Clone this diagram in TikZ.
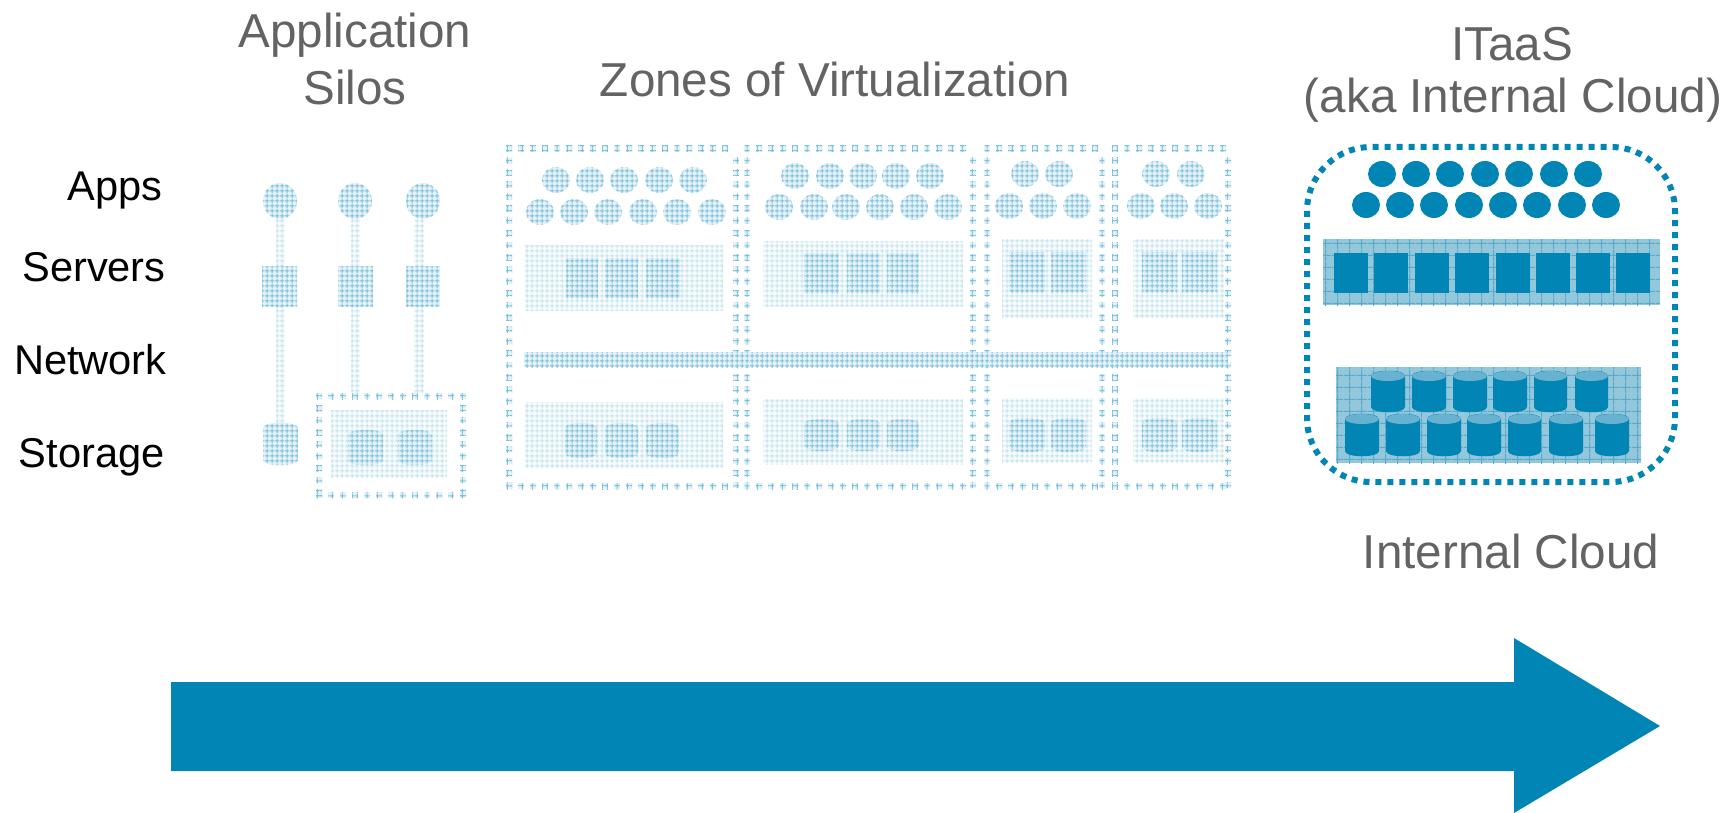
\documentclass[tikz,border=0pt]{standalone}
\usepackage{fontspec}
\setmainfont{Liberation Sans}
\usetikzlibrary{patterns}
\definecolor{itblue}{HTML}{0085B5}
\definecolor{itcap}{HTML}{66B2D0}
\definecolor{txtgray}{HTML}{636363}
\definecolor{fadeA}{HTML}{7CC0DA}
\definecolor{fadeB}{HTML}{C6E3EE}
\definecolor{baseA}{HTML}{E4F2F7}
\definecolor{baseB}{HTML}{F6FBFC}
\definecolor{bandbase}{HTML}{93C7DC}
\definecolor{bandgrid}{HTML}{5CAAC9}
\pgfdeclarepatternformonly{finegrid}{\pgfqpoint{0pt}{0pt}}{\pgfqpoint{2.5pt}{2.5pt}}{\pgfqpoint{2.5pt}{2.5pt}}{%
  \pgfsetlinewidth{0.55pt}%
  \pgfpathmoveto{\pgfqpoint{0pt}{1.25pt}}\pgfpathlineto{\pgfqpoint{2.5pt}{1.25pt}}%
  \pgfpathmoveto{\pgfqpoint{1.25pt}{0pt}}\pgfpathlineto{\pgfqpoint{1.25pt}{2.5pt}}%
  \pgfusepath{stroke}}
\pgfdeclarepatternformonly{bandlines}{\pgfqpoint{0pt}{0pt}}{\pgfqpoint{6pt}{6pt}}{\pgfqpoint{6pt}{6pt}}{%
  \pgfsetlinewidth{0.5pt}%
  \pgfpathmoveto{\pgfqpoint{0pt}{3pt}}\pgfpathlineto{\pgfqpoint{6pt}{3pt}}%
  \pgfpathmoveto{\pgfqpoint{3pt}{0pt}}\pgfpathlineto{\pgfqpoint{3pt}{6pt}}%
  \pgfusepath{stroke}}
\tikzset{
  strong/.style={pattern=finegrid,pattern color=fadeA,preaction={fill=baseA}},
  pale/.style={pattern=finegrid,pattern color=fadeB,preaction={fill=baseB}},
  solidblue/.style={fill=itblue},
  bandfill/.style={pattern=bandlines,pattern color=bandgrid,preaction={fill=bandbase}},
  graytext/.style={text=txtgray,font=\fontsize{23.8}{28}\selectfont,inner sep=0pt,anchor=center},
  rowtext/.style={text=black,font=\fontsize{20.8}{25}\selectfont,inner sep=0pt,anchor=east},
}
% dotted rectangle made of textured squares
\newcommand\dotrect[4]{%
  \pgfmathtruncatemacro\nxx{(#3-#1)/12}%
  \pgfmathtruncatemacro\nyy{(#4-#2)/12}%
  \foreach \i in {0,...,\nxx}{%
    \fill[strong] ({#1+12*\i-3},{#2-3}) rectangle ++(6,6);
    \fill[strong] ({#1+12*\i-3},{#4-3}) rectangle ++(6,6);}%
  \foreach \i in {1,...,\nyy}{%
    \fill[strong] ({#1-3},{#2+12*\i-3}) rectangle ++(6,6);
    \fill[strong] ({#3-3},{#2+12*\i-3}) rectangle ++(6,6);}%
}
% cylinder path: x1 x2 ytop ybottom
\newcommand\cylpath[4]{(#1,#3+5) -- (#1,#4-5) .. controls (#1,#4+2) and (#2,#4+2) .. (#2,#4-5) -- (#2,#3+5) .. controls (#2,#3-2) and (#1,#3-2) .. cycle}
\newcommand\solidcyl[4]{%
  \fill[solidblue] \cylpath{#1}{#2}{#3}{#4};
  \fill[itcap] ({(#1+#2)/2},#3+5) ellipse [x radius={(#2-#1)/2}, y radius=5];}
\newcommand\circlesrow[3]{\foreach \cx in {#1}{\fill[#3] (\cx,#2) ellipse [x radius=14, y radius=13];}}
\begin{document}
\begin{tikzpicture}[x=0.5pt,y=-0.5pt]
\useasboundingbox (0,0) rectangle (1731,813);
% Titles
\node[graytext] (silos1) at (355,35) {Application};
\node[graytext] (silos2) at (355,87) {Silos};
\node[graytext] (zones) at (835,79) {Zones of Virtualization};
\node[graytext] (itaas1) at (1512,44) {ITaaS};
\node[graytext] (itaas2) at (1513,100) {(aka Internal Cloud)};
\node[graytext] (cloud) at (1511,551) {Internal Cloud};
% Row labels
\node[rowtext] (apps) at (163,191) {Apps};
\node[rowtext] (servers) at (166,267) {Servers};
\node[rowtext] (network) at (167,360) {Network};
\node[rowtext] (storage) at (165,457) {Storage};
% Silos: stems
\fill[pale] (276,219) rectangle (285,425);
\fill[pale] (351,219) rectangle (360,393);
\fill[pale] (414,219) rectangle (424,393);
% Silos: apps
\foreach \cx in {280,355,423}{\fill[strong] (\cx,201) ellipse [x radius=17, y radius=18];}
% Silos: servers
\fill[strong] (262,266) rectangle (297,306);
\fill[strong] (338,266) rectangle (373,306);
\fill[strong] (406,266) rectangle (440,306);
% Silo: storage
\fill[strong] \cylpath{263}{298}{423}{465};
\dotrect{319}{396}{463}{495}
\fill[pale] (331,410) rectangle (447,477);
\fill[strong] \cylpath{348}{383}{430}{465};
\fill[strong] \cylpath{398}{432}{430}{465};
% Zones: dotted outlines
\dotrect{509}{149}{736}{486}
\dotrect{747}{149}{973}{486}
\dotrect{987}{149}{1102}{486}
\dotrect{1115}{149}{1228}{486}
% Zone 1
\circlesrow{556,590,624,659,693}{180}{strong}
\circlesrow{540,574,608,643,677,712}{212}{strong}
\fill[pale] (525,245) rectangle (723,310);
\foreach \xa/\xb in {566/598,605/638,646/680}{\fill[strong] (\xa,258) rectangle (\xb,298);}
\fill[pale] (525,402) rectangle (723,468);
\foreach \xa/\xb in {565/597,605/638,646/679}{\fill[strong] \cylpath{\xa}{\xb}{423}{458};}
% Zone 2
\circlesrow{795,830,863,896,930}{176}{strong}
\circlesrow{779,814,846,880,914,948}{207}{strong}
\fill[pale] (763,241) rectangle (963,306);
\foreach \xa/\xb in {804/839,847/880,887/919}{\fill[strong] (\xa,253) rectangle (\xb,293);}
\fill[pale] (763,399) rectangle (963,464);
\foreach \xa/\xb in {804/839,847/880,887/919}{\fill[strong] \cylpath{\xa}{\xb}{419}{451};}
% Zone 3
\circlesrow{1025,1059}{174}{strong}
\circlesrow{1009,1043,1077}{206}{strong}
\fill[pale] (1002,239) rectangle (1092,318);
\foreach \xa/\xb in {1009/1045,1051/1086}{\fill[strong] (\xa,252) rectangle (\xb,292);}
\fill[pale] (1002,398) rectangle (1092,462);
\foreach \xa/\xb in {1009/1045,1051/1086}{\fill[strong] \cylpath{\xa}{\xb}{418}{452};}
% Zone 4
\circlesrow{1156,1191}{174}{strong}
\circlesrow{1141,1174,1208}{206}{strong}
\fill[pale] (1133,239) rectangle (1224,318);
\foreach \xa/\xb in {1142/1177,1182/1217}{\fill[strong] (\xa,252) rectangle (\xb,292);}
\fill[pale] (1133,398) rectangle (1224,462);
\foreach \xa/\xb in {1142/1177,1182/1217}{\fill[strong] \cylpath{\xa}{\xb}{418}{452};}
% Network band
\fill[strong] (524,352) rectangle (1228,367);
% Internal cloud
\draw[itblue,line width=3pt,dash pattern=on 3pt off 3pt,rounded corners=32pt] (1307,147) rectangle (1675,482);
\circlesrow{1382,1416,1450,1485,1519,1554,1588}{174}{solidblue}
\circlesrow{1366,1400,1434,1469,1503,1537,1572,1606}{205}{solidblue}
\fill[bandfill] (1323,239) rectangle (1660,305);
\foreach \xa in {1334,1374,1415,1455,1496,1536,1576,1616}{\fill[solidblue] (\xa,253) rectangle ++(34,40);}
\fill[bandfill] (1336,367) rectangle (1641,463);
\foreach \xa/\xb in {1371/1405,1412/1446,1453/1487,1493/1527,1534/1567,1575/1608}{\solidcyl{\xa}{\xb}{371}{412}}
\foreach \xa/\xb in {1345/1379,1386/1420,1427/1461,1467/1501,1508/1541,1549/1583,1595/1629}{\solidcyl{\xa}{\xb}{414}{456}}
% Big arrow
\fill[itblue] (171,682) -- (1514,682) -- (1514,638) -- (1660,726) -- (1514,813) -- (1514,771) -- (171,771) -- cycle;
\end{tikzpicture}
\end{document}
